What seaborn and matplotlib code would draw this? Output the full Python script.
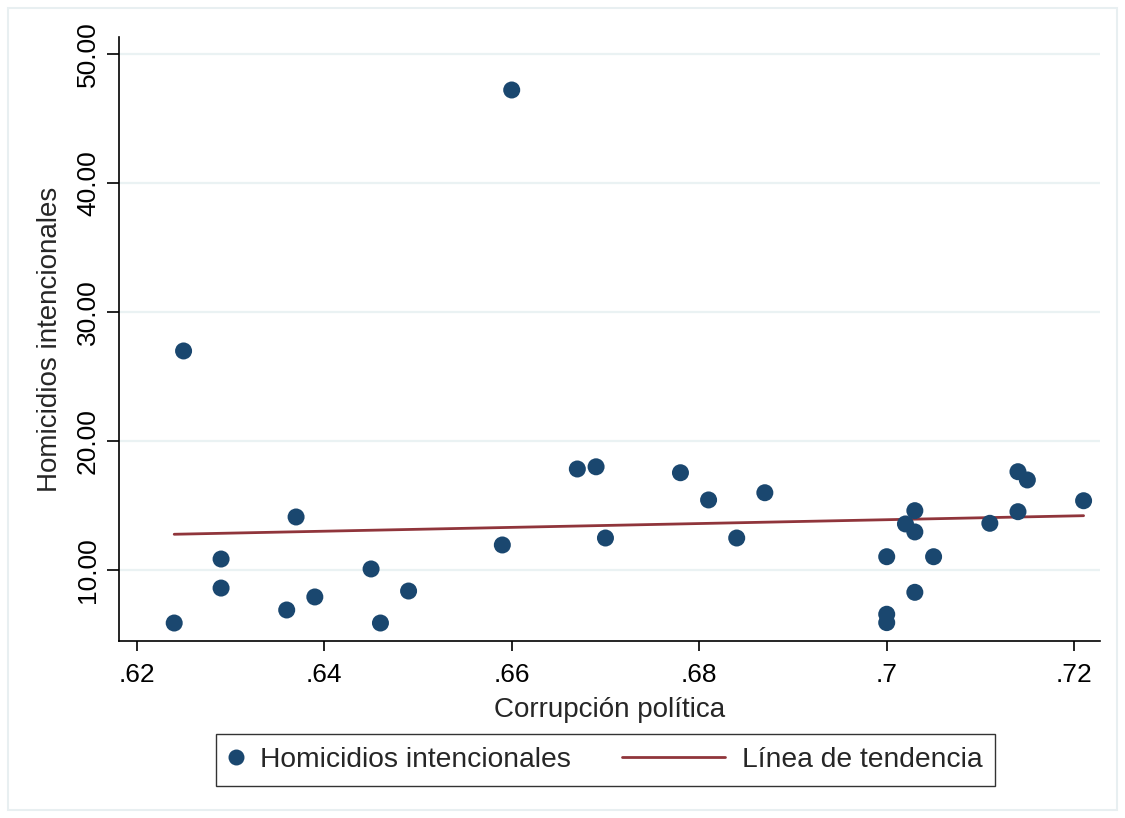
import numpy as np
import pandas as pd
import matplotlib
matplotlib.use("Agg")
import matplotlib.pyplot as plt
import seaborn as sns
from matplotlib.lines import Line2D
from matplotlib.legend_handler import HandlerLine2D
from matplotlib.patches import Rectangle
from matplotlib.ticker import FuncFormatter

# data
corrupcion = [0.624, 0.625, 0.629, 0.629, 0.636, 0.637, 0.639, 0.645, 0.646, 0.649,
              0.659, 0.660, 0.667, 0.669, 0.670, 0.678, 0.681, 0.684, 0.687,
              0.700, 0.700, 0.700, 0.702, 0.703, 0.703, 0.703, 0.705,
              0.711, 0.714, 0.715, 0.714, 0.721]
homicidios = [5.89, 26.98, 10.85, 8.60, 6.90, 14.11, 7.91, 10.08, 5.89, 8.37,
              11.94, 47.21, 17.83, 18.00, 12.48, 17.54, 15.43, 12.48, 15.99,
              11.03, 6.57, 5.92, 13.57, 14.60, 12.95, 8.27, 11.03,
              13.62, 17.62, 16.98, 14.52, 15.37]
# fitted trend line (end points)
tendencia_x = [0.624, 0.721]
tendencia_y = [12.77, 14.21]

x_ticks = [0.62, 0.64, 0.66, 0.68, 0.70, 0.72]
y_ticks = [10, 20, 30, 40, 50]

NAVY = "#1a476f"
MAROON = "#90353b"
GRID = "#eaf2f3"

df = pd.DataFrame({"x": corrupcion, "y": homicidios})
trend = pd.DataFrame({"x": tendencia_x, "y": tendencia_y})

sns.set_style("white")
plt.rcParams["font.family"] = ["Liberation Sans", "DejaVu Sans"]

fig = plt.figure(figsize=(11.25, 8.18), dpi=100)
ax = fig.add_axes([119 / 1125, 1 - 641 / 818, 981 / 1125, 604 / 818])

# outer frame of the graph region
fig.patches.append(Rectangle((8 / 1125, 8 / 818), 1109 / 1125, 802 / 818,
                             transform=fig.transFigure, fill=False,
                             edgecolor="#e8eff1", lw=1.5))

for yv in y_ticks:
    ax.axhline(yv, color=GRID, lw=1.6, zorder=0)

sns.lineplot(data=trend, x="x", y="y", ax=ax, color=MAROON, lw=2.0, zorder=2)
sns.scatterplot(data=df, x="x", y="y", ax=ax, color=NAVY, s=150,
                edgecolor="none", zorder=3)

ax.set_xlim(0.618112, 0.72275)
ax.set_ylim(4.496, 51.318)
ax.set_xticks(x_ticks)
ax.set_yticks(y_ticks)
ax.xaxis.set_major_formatter(FuncFormatter(lambda v, p: f"{v:g}".lstrip("0")))
ax.yaxis.set_major_formatter(FuncFormatter(lambda v, p: f"{v:.2f}"))

for s in ["top", "right"]:
    ax.spines[s].set_visible(False)
for s in ["left", "bottom"]:
    ax.spines[s].set_color("black")
    ax.spines[s].set_linewidth(1.2)

ax.tick_params(axis="x", direction="out", length=7, width=1.2, pad=9,
               labelsize=19, colors="black", bottom=True)
ax.tick_params(axis="y", direction="out", length=8.6, width=1.2, pad=5,
               labelsize=19, colors="black", left=True)
for lab in ax.get_yticklabels():
    lab.set_rotation(90)
    lab.set_va("center")

ax.set_xlabel("Corrupción política", fontsize=20)
ax.set_ylabel("Homicidios intencionales", fontsize=20)
ax.xaxis.set_label_coords(0.5, -0.093)
ax.yaxis.set_label_coords(-0.057, 0.5)


class LongLine(HandlerLine2D):
    # the line handle reaches back into the column gap
    def create_artists(self, legend, orig_handle, xdescent, ydescent,
                       width, height, fontsize, trans):
        arts = super().create_artists(legend, orig_handle, xdescent, ydescent,
                                      width, height, fontsize, trans)
        for a in arts:
            if a.get_linestyle() not in ("None", ""):
                y0 = np.asarray(a.get_ydata())[0]
                a.set_data([width - xdescent - 74, width - xdescent], [y0, y0])
        return arts


h_pts = Line2D([], [], marker="o", ls="none", color=NAVY, markersize=11.5,
               markeredgewidth=0)
h_line = Line2D([], [], color=MAROON, lw=2.0)
leg = fig.legend([h_pts, h_line], ["Homicidios intencionales", "Línea de tendencia"],
                 loc="center left", bbox_to_anchor=(220.7 / 1125, 1 - 760 / 818),
                 borderaxespad=0, ncol=2, fontsize=20.3, handlelength=0.5,
                 handletextpad=0.6, columnspacing=4.96,
                 borderpad=0.3, frameon=True, fancybox=False,
                 handler_map={h_line: LongLine()})
leg.get_frame().set_edgecolor("black")
leg.get_frame().set_linewidth(1.0)
leg.get_frame().set_boxstyle("square", pad=0.15)

fig.savefig("out.png", dpi=100)
